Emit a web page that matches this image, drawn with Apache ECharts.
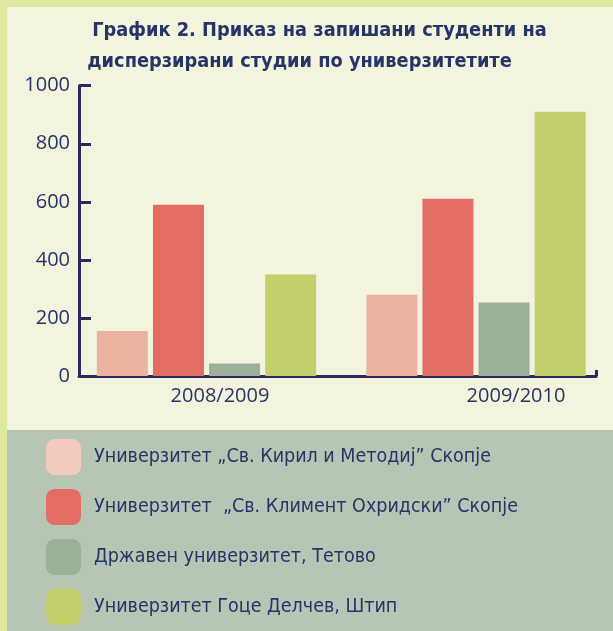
<!DOCTYPE html>
<html>
<head>
<meta charset="utf-8">
<script src="https://cdn.jsdelivr.net/npm/echarts@6/dist/echarts.min.js"></script>
<style>
html,body{margin:0;padding:0;background:#e1e8a1;width:613px;height:631px;overflow:hidden;}
#chart{position:absolute;left:7px;top:7px;width:606px;height:624px;}
</style>
</head>
<body>
<div id="chart"></div>
<script>
const titleLines = ['График 2. Приказ на запишани студенти на', 'дисперзирани студии по универзитетите'];
const categories = ['2008/2009', '2009/2010'];
const seriesNames = [
  'Универзитет „Св. Кирил и Методиј” Скопје',
  'Универзитет  „Св. Климент Охридски” Скопје',
  'Државен универзитет, Тетово',
  'Универзитет Гоце Делчев, Штип'
];
const kirilMetodij = [155, 280];
const klimentOhridski = [590, 611];
const tetovo = [43, 253];
const stip = [350, 910];
const yTicks = [0, 200, 400, 600, 800, 1000];

const barColors = ['#ecb3a0', '#e26d62', '#9caf98', '#c4ce6c'];
const legendColors = ['#f3cbbe', '#e26d62', '#9caf98', '#c4ce6c'];
const navy = '#2b2a5e';
const textBlue = '#263467';
const values = [kirilMetodij, klimentOhridski, tetovo, stip];
const condensed = '"DejaVu Sans Condensed", "DejaVu Sans"';

const chart = echarts.init(document.getElementById('chart'));
chart.setOption({
  backgroundColor: '#f2f4dd',
  animation: false,
  title: [
    {text: titleLines[0], left: 312.5, top: 14, textAlign: 'center', padding: 0,
     textStyle: {fontFamily: condensed, fontWeight: 'bold', fontSize: 19.8, color: textBlue}},
    {text: titleLines[1], left: 292.5, top: 45, textAlign: 'center', padding: 0,
     textStyle: {fontFamily: condensed, fontWeight: 'bold', fontSize: 19.8, color: textBlue}}
  ],
  graphic: [{type: 'rect', left: 0, top: 423, z: -1, shape: {width: 606, height: 201}, style: {fill: '#b7c5b4'}}],
  legend: {
    orient: 'vertical', left: 39, top: 432, padding: 0,
    itemWidth: 35, itemHeight: 36, itemGap: 14, icon: 'roundRect',
    selectedMode: false,
    textStyle: {fontFamily: condensed, fontSize: 19.5, color: textBlue, padding: [2, 0, 0, 8]},
    data: seriesNames.map((n, i) => ({name: n, itemStyle: {color: legendColors[i]}}))
  },
  grid: [
    {left: 72, width: 517, top: 78.7, height: 290.3},
    {left: 64.75, width: 539, top: 78.7, height: 290.3}
  ],
  xAxis: [
    {type: 'value', gridIndex: 0, min: 0, max: 1, interval: 1,
     axisLine: {show: true, onZero: false, lineStyle: {color: navy, width: 3}},
     axisTick: {show: true, inside: true, length: 6, lineStyle: {color: navy, width: 3}},
     axisLabel: {show: false}, splitLine: {show: false}},
    {type: 'category', gridIndex: 1, data: categories,
     axisLine: {show: false}, axisTick: {show: false},
     axisLabel: {margin: 10, fontFamily: 'Open Sans', fontSize: 20, color: textBlue,
       formatter: (v, i) => i === 0 ? '{a|' + v + '}' : '{b|' + v + '}',
       rich: {a: {fontFamily: 'Open Sans', fontSize: 20, color: textBlue, padding: [0, 0, 0, 27]},
              b: {fontFamily: 'Open Sans', fontSize: 20, color: textBlue, padding: [0, 0, 0, 80]}}}}
  ],
  yAxis: [
    {type: 'value', gridIndex: 0, min: 0, max: 1000, interval: 200,
     axisLine: {show: true, lineStyle: {color: navy, width: 3}},
     axisTick: {show: true, inside: true, length: 12, lineStyle: {color: navy, width: 3}},
     axisLabel: {margin: 9, fontFamily: 'Open Sans', fontSize: 20, color: textBlue,
       formatter: v => yTicks.includes(v) ? String(v) : ''},
     splitLine: {show: false}},
    {type: 'value', gridIndex: 1, min: 0, max: 1000, interval: 200, show: false}
  ],
  series: values.map((d, i) => ({
    name: seriesNames[i], type: 'bar', xAxisIndex: 1, yAxisIndex: 1,
    data: d, barWidth: 51, barGap: '10%',
    itemStyle: {color: barColors[i]}, z: 1
  }))
});
</script>
</body>
</html>
